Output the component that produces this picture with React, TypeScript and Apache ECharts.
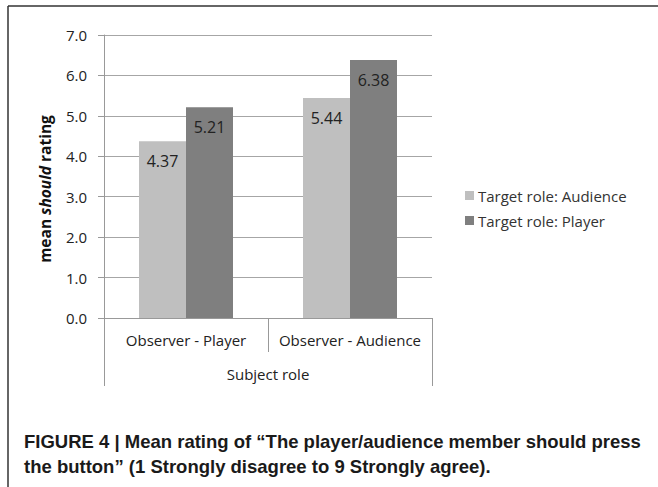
import React, { useEffect, useRef } from "react";
import * as echarts from "echarts";

const categories = ["Observer - Player", "Observer - Audience"];
const audienceValues = [4.37, 5.44];
const playerValues = [5.21, 6.38];
const seriesNames = ["Target role: Audience", "Target role: Player"];
const groupLabel = ["Subject role"];
const captionLines = [
  "FIGURE 4 | Mean rating of \u201CThe player/audience member should press",
  "the button\u201D (1 Strongly disagree to 9 Strongly agree).",
];

const FONT = "'Open Sans', sans-serif";

export default function App() {
  const ref = useRef<HTMLDivElement>(null);
  useEffect(() => {
    if (!ref.current) return;
    const chart = echarts.init(ref.current, null, { renderer: "svg" });
    const labelCfg = {
      show: true,
      position: "insideTop" as const,
      distance: 12,
      color: "#222",
      fontSize: 16,
      fontFamily: FONT,
      formatter: (p: any) => p.value.toFixed(2),
    };
    chart.setOption({
      animation: false,
      backgroundColor: "#fff",
      grid: { left: 104, right: 226, top: 35, bottom: 169, containLabel: false },
      legend: {
        orient: "vertical",
        left: 460,
        top: 183,
        itemWidth: 9,
        itemHeight: 9,
        itemGap: 10,
        icon: "rect",
        textStyle: { color: "#333", fontSize: 15, fontFamily: FONT, padding: [0, 0, 0, -1] },
        data: seriesNames,
      },
      xAxis: [
        {
          type: "category",
          data: categories,
          position: "bottom",
          axisLine: { show: true, lineStyle: { color: "#999", width: 1 } },
          axisTick: { show: true, length: 34, interval: 0, lineStyle: { color: "#999" } },
          axisLabel: { color: "#222", fontSize: 15, fontFamily: FONT, margin: 14, interval: 0 },
        },
        {
          type: "category",
          data: groupLabel,
          position: "bottom",
          axisLine: { show: false },
          axisTick: { show: true, length: 68, lineStyle: { color: "#999" } },
          axisLabel: { color: "#222", fontSize: 15, fontFamily: FONT, margin: 48 },
        },
      ],
      yAxis: {
        type: "value",
        min: 0,
        max: 7,
        interval: 1,
        axisLine: { show: true, lineStyle: { color: "#999" } },
        axisTick: { show: true, length: 6, lineStyle: { color: "#999" } },
        splitLine: { show: true, lineStyle: { color: "#a6a6a6", width: 1 } },
        axisLabel: {
          color: "#222",
          fontSize: 15,
          fontFamily: FONT,
          margin: 17,
          formatter: (v: number) => v.toFixed(1),
        },
      },
      series: [
        {
          name: seriesNames[0],
          type: "bar",
          data: audienceValues,
          barWidth: 47,
          barGap: "0%",
          itemStyle: { color: "#bfbfbf" },
          label: labelCfg,
        },
        {
          name: seriesNames[1],
          type: "bar",
          data: playerValues,
          barWidth: 47,
          barGap: "0%",
          itemStyle: { color: "#7f7f7f" },
          label: labelCfg,
        },
      ],
      graphic: [
        {
          type: "line",
          shape: { x1: 8, y1: 6, x2: 658, y2: 6 },
          style: { stroke: "#333", lineWidth: 1.5 },
        },
        {
          type: "line",
          shape: { x1: 8, y1: 6, x2: 8, y2: 487 },
          style: { stroke: "#333", lineWidth: 1.5 },
        },
        {
          type: "text",
          x: 45,
          y: 189,
          rotation: Math.PI / 2,
          style: {
            text: "mean {i|should} rating",
            align: "center",
            verticalAlign: "middle",
            fill: "#111",
            font: "bold 15.5px 'Open Sans', sans-serif",
            rich: {
              i: {
                fontStyle: "italic",
                fontWeight: "bold",
                fontSize: 15.5,
                fontFamily: FONT,
                fill: "#111",
              },
            },
          },
        },
        {
          type: "text",
          left: 24,
          top: 429,
          style: {
            text: captionLines.join("\n"),
            fill: "#1a1a1a",
            font: "bold 18.5px 'Liberation Sans', Arial, sans-serif",
            lineHeight: 25,
          },
        },
      ],
    });
    return () => chart.dispose();
  }, []);
  return <div ref={ref} style={{ width: 658, height: 487, position: "absolute", left: 0, top: 0 }} />;
}
